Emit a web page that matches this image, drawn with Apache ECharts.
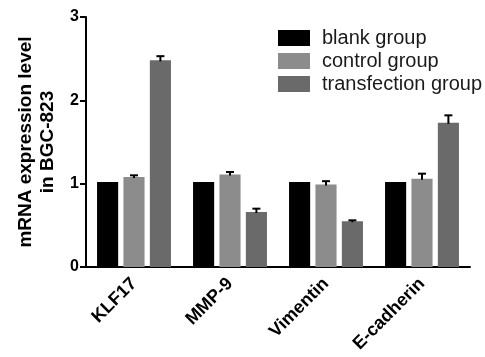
<!DOCTYPE html>
<html>
<head>
<meta charset="utf-8">
<script src="https://cdn.jsdelivr.net/npm/echarts@6/dist/echarts.min.js"></script>
<style>
  html, body { margin: 0; padding: 0; background: #fff; }
  #chart { width: 485px; height: 357px; }
</style>
</head>
<body>
<div id="chart"></div>
<script>
// Genes on the x axis
const genes = ['KLF17', 'MMP-9', 'Vimentin', 'E-cadherin'];
// Group names
const groupNames = ['blank group', 'control group', 'transfection group'];
// Mean relative mRNA expression per group
const blankValues = [1.02, 1.02, 1.02, 1.02];
const controlValues = [1.08, 1.11, 0.99, 1.06];
const transfectionValues = [2.48, 0.66, 0.55, 1.73];
// Upper error (SD) per group
const blankErrors = [0, 0, 0, 0];
const controlErrors = [0.02, 0.03, 0.04, 0.06];
const transfectionErrors = [0.05, 0.04, 0.01, 0.09];
// Y axis ticks
const yTicks = [0, 1, 2, 3];

const colors = ['#000000', '#8c8c8c', '#6a6a6a'];
const values = [blankValues, controlValues, transfectionValues];
const errors = [blankErrors, controlErrors, transfectionErrors];

const BAR_FRAC = 0.22;   // bar width as a fraction of the category band
const GAP_FRAC = 0.25;   // gap between bars as a fraction of the bar width

const chart = echarts.init(document.getElementById('chart'));

const barSeries = groupNames.map((name, i) => ({
  name: name,
  type: 'bar',
  data: values[i],
  barWidth: (BAR_FRAC * 100) + '%',
  barGap: (GAP_FRAC * 100) + '%',
  itemStyle: { color: colors[i] },
  z: 2
}));

// Upward error bars with a short cap
const errorSeries = groupNames.map((name, i) => ({
  type: 'custom',
  name: name + ' error',
  z: 5,
  silent: true,
  data: genes.map((g, k) => [k, values[i][k], values[i][k] + errors[i][k]]),
  renderItem: function (params, api) {
    const k = api.value(0);
    const err = api.value(2) - api.value(1);
    if (err <= 0) return null;
    const band = api.size([1, 0])[0];
    const offset = (i - 1) * band * BAR_FRAC * (1 + GAP_FRAC);
    const low = api.coord([k, api.value(1)]);
    const high = api.coord([k, api.value(2)]);
    const x = low[0] + offset;
    const capHalf = 4;
    return {
      type: 'group',
      children: [
        { type: 'line', shape: { x1: x, y1: low[1] + 1, x2: x, y2: high[1] }, style: { stroke: '#000', lineWidth: 2 } },
        { type: 'line', shape: { x1: x - capHalf, y1: high[1], x2: x + capHalf, y2: high[1] }, style: { stroke: '#000', lineWidth: 2 } }
      ]
    };
  }
}));

chart.setOption({
  animation: false,
  textStyle: { fontFamily: 'Liberation Sans, Arial, sans-serif' },
  grid: { left: 86, right: 15, top: 17, bottom: 90, containLabel: false },
  legend: {
    data: groupNames,
    orient: 'vertical',
    left: 273,
    top: 23,
    padding: 5,
    itemWidth: 32,
    itemHeight: 16,
    itemGap: 3,
    icon: 'rect',
    textStyle: { fontSize: 20, lineHeight: 16, color: '#1a1a1a', fontFamily: 'Liberation Sans, Arial, sans-serif', padding: [0, 0, 0, 7] }
  },
  xAxis: {
    type: 'category',
    data: genes,
    axisLine: { lineStyle: { color: '#000', width: 2 } },
    axisTick: { alignWithLabel: true, length: 6, lineStyle: { color: '#000', width: 2 } },
    axisLabel: {
      rotate: 45,
      fontSize: 18,
      fontWeight: 'bold',
      color: '#000',
      margin: 14,
      interval: 0
    }
  },
  yAxis: {
    type: 'value',
    min: yTicks[0],
    max: yTicks[yTicks.length - 1],
    interval: 1,
    name: 'mRNA expression level\nin BGC-823',
    nameLocation: 'middle',
    nameGap: 20,
    nameTextStyle: { fontSize: 19, fontWeight: 'bold', color: '#000', lineHeight: 22 },
    axisLine: { show: true, lineStyle: { color: '#000', width: 2 } },
    axisTick: { show: true, length: 6, lineStyle: { color: '#000', width: 2 } },
    axisLabel: { fontSize: 16, fontWeight: 'bold', color: '#000', margin: 7 },
    splitLine: { show: false }
  },
  series: barSeries.concat(errorSeries)
});
</script>
</body>
</html>
